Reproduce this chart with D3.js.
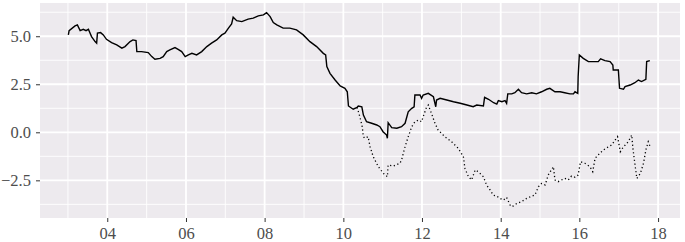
<!DOCTYPE html>
<html>
<head>
<meta charset="utf-8">
<script src="https://cdn.jsdelivr.net/npm/d3@7"></script>
<style>
  body { margin: 0; background: #fff; }
</style>
</head>
<body>
<div class="vis-chart"></div>
<script>
// decimal year, value
const solidSeries = [
  [2003.01, 5.07], [2003.03, 5.29], [2003.18, 5.54], [2003.24, 5.59], [2003.31, 5.29],
  [2003.39, 5.36], [2003.46, 5.29], [2003.52, 5.36], [2003.60, 4.98], [2003.69, 4.72],
  [2003.73, 4.64], [2003.75, 5.16], [2003.83, 5.19], [2003.90, 5.07], [2003.98, 4.84],
  [2004.11, 4.67], [2004.24, 4.55], [2004.37, 4.38], [2004.45, 4.46], [2004.58, 4.72],
  [2004.65, 4.81], [2004.73, 4.77], [2004.75, 4.20], [2004.87, 4.20], [2005.04, 4.15],
  [2005.13, 3.94], [2005.21, 3.80], [2005.34, 3.85], [2005.42, 3.94], [2005.51, 4.20],
  [2005.59, 4.29], [2005.72, 4.41], [2005.80, 4.32], [2005.89, 4.20], [2005.98, 3.94],
  [2006.06, 4.03], [2006.15, 4.11], [2006.27, 4.03], [2006.40, 4.20], [2006.53, 4.46],
  [2006.65, 4.64], [2006.78, 4.81], [2006.91, 5.07], [2006.99, 5.16], [2007.08, 5.42],
  [2007.16, 5.64], [2007.20, 5.99], [2007.29, 5.81], [2007.42, 5.76], [2007.58, 5.89],
  [2007.71, 5.94], [2007.84, 6.06], [2007.97, 6.11], [2008.05, 6.23], [2008.14, 6.02],
  [2008.22, 5.71], [2008.31, 5.59], [2008.47, 5.42], [2008.64, 5.42], [2008.81, 5.33],
  [2008.98, 5.07], [2009.15, 4.72], [2009.32, 4.46], [2009.49, 4.11], [2009.55, 4.03],
  [2009.58, 3.42], [2009.66, 3.07], [2009.79, 2.72], [2009.92, 2.41], [2010.04, 2.29],
  [2010.10, 2.11], [2010.13, 1.37], [2010.25, 1.20], [2010.35, 1.30], [2010.38, 1.37],
  [2010.47, 1.33], [2010.51, 0.90], [2010.59, 0.55], [2010.72, 0.47], [2010.85, 0.38],
  [2010.93, 0.29], [2011.01, 0.03], [2011.10, -0.14], [2011.12, -0.31], [2011.14, 0.50],
  [2011.23, 0.24], [2011.36, 0.21], [2011.48, 0.29], [2011.57, 0.47], [2011.65, 1.07],
  [2011.74, 1.25], [2011.80, 1.33], [2011.82, 1.94], [2011.95, 1.94], [2011.99, 1.77],
  [2012.03, 1.94], [2012.16, 2.03], [2012.29, 1.85], [2012.35, 1.33], [2012.37, 1.68],
  [2012.46, 1.77], [2012.63, 1.68], [2012.80, 1.59], [2012.97, 1.51], [2013.14, 1.42],
  [2013.30, 1.33], [2013.39, 1.42], [2013.56, 1.37], [2013.59, 1.82], [2013.69, 1.72],
  [2013.82, 1.54], [2013.90, 1.47], [2013.94, 1.65], [2014.03, 1.59], [2014.11, 1.65],
  [2014.15, 1.51], [2014.18, 2.00], [2014.28, 2.00], [2014.36, 2.06], [2014.45, 2.24],
  [2014.53, 2.06], [2014.66, 2.00], [2014.79, 2.06], [2014.91, 2.00], [2015.04, 2.11],
  [2015.17, 2.24], [2015.25, 2.29], [2015.38, 2.11], [2015.51, 2.11], [2015.63, 2.06],
  [2015.76, 2.00], [2015.85, 2.00], [2015.89, 2.11], [2015.96, 2.03], [2015.97, 2.90],
  [2016.00, 4.03], [2016.10, 3.85], [2016.23, 3.68], [2016.48, 3.68], [2016.54, 3.82],
  [2016.65, 3.73], [2016.78, 3.68], [2016.85, 3.50], [2016.86, 3.24], [2016.99, 3.24],
  [2017.02, 2.29], [2017.12, 2.24], [2017.16, 2.38], [2017.29, 2.46], [2017.41, 2.58],
  [2017.50, 2.72], [2017.58, 2.64], [2017.69, 2.76], [2017.71, 3.68], [2017.79, 3.73]
];

const dottedSeries = [
  [2010.35, 1.30], [2010.42, 0.81], [2010.48, 0.29], [2010.51, -0.23], [2010.55, -0.31],
  [2010.63, -0.23], [2010.68, -0.75], [2010.76, -1.27], [2010.89, -1.79], [2011.02, -2.14],
  [2011.12, -2.31], [2011.14, -1.70], [2011.27, -1.76], [2011.44, -1.61], [2011.48, -1.44],
  [2011.57, -0.75], [2011.65, -0.23], [2011.74, 0.29], [2011.82, 0.55], [2011.91, 0.64],
  [2011.99, 0.55], [2012.03, 0.81], [2012.12, 1.33], [2012.16, 1.42], [2012.24, 0.99],
  [2012.33, 0.47], [2012.41, 0.12], [2012.58, -0.23], [2012.75, -0.49], [2012.92, -0.83],
  [2013.05, -1.27], [2013.09, -1.88], [2013.18, -2.31], [2013.26, -2.48], [2013.35, -1.96],
  [2013.43, -2.05], [2013.56, -2.31], [2013.64, -2.74], [2013.73, -3.00], [2013.81, -3.27],
  [2013.90, -3.32], [2013.98, -3.44], [2014.07, -3.53], [2014.15, -3.39], [2014.24, -3.79],
  [2014.29, -3.87], [2014.41, -3.70], [2014.53, -3.61], [2014.66, -3.44], [2014.79, -3.32],
  [2014.87, -3.27], [2014.96, -2.83], [2015.04, -2.66], [2015.13, -2.74], [2015.21, -2.22],
  [2015.34, -1.79], [2015.38, -2.48], [2015.46, -2.57], [2015.55, -2.48], [2015.63, -2.40],
  [2015.72, -2.48], [2015.80, -2.28], [2015.89, -2.34], [2015.97, -2.22], [2016.03, -1.53],
  [2016.14, -1.61], [2016.27, -1.79], [2016.34, -2.05], [2016.40, -1.35], [2016.52, -1.09],
  [2016.61, -0.92], [2016.74, -0.75], [2016.82, -0.66], [2016.91, -0.40], [2016.97, -0.23],
  [2017.04, -1.01], [2017.12, -0.75], [2017.21, -0.57], [2017.29, -0.31], [2017.33, -0.14],
  [2017.36, -0.83], [2017.42, -1.79], [2017.46, -2.40], [2017.55, -2.14], [2017.63, -1.61],
  [2017.69, -0.92], [2017.75, -0.49], [2017.80, -0.75]
];

const yTicks = [-2.5, 0, 2.5, 5];
const yMinor = [-3.75, -1.25, 1.25, 3.75, 6.25];
const xTickYears = [2004, 2006, 2008, 2010, 2012, 2014, 2016, 2018];
const xMinorYears = [2003, 2005, 2007, 2009, 2011, 2013, 2015, 2017];

const toDate = (y) => {
  const yr = Math.floor(y);
  const start = Date.UTC(yr, 0, 1);
  const end = Date.UTC(yr + 1, 0, 1);
  return new Date(start + (y - yr) * (end - start));
};

const totalWidth = 685;
const totalHeight = 242;
const margin = { top: 3, right: 5, bottom: 24, left: 40 };
const width = totalWidth - margin.left - margin.right;
const height = totalHeight - margin.top - margin.bottom;
const labelFont = '"Liberation Serif", "Times New Roman", serif';

const svg = d3
  .select('.vis-chart')
  .append('svg')
  .attr('width', totalWidth)
  .attr('height', totalHeight)
  .append('g')
  .attr('transform', `translate(${margin.left},${margin.top})`);

const x = d3.scaleUtc().domain([toDate(2002.289), toDate(2018.558)]).range([0, width]);
const y = d3.scaleLinear().domain([-4.46, 6.73]).range([height, 0]);

// panel
svg.append('rect')
  .attr('width', width)
  .attr('height', height)
  .attr('fill', '#edeaee');

// grid
svg.selectAll('.minor-y')
  .data(yMinor)
  .enter()
  .append('line')
  .attr('x1', 0).attr('x2', width)
  .attr('y1', (d) => y(d)).attr('y2', (d) => y(d))
  .attr('stroke', '#fff').attr('stroke-width', 0.9);

svg.selectAll('.minor-x')
  .data(xMinorYears)
  .enter()
  .append('line')
  .attr('y1', 0).attr('y2', height)
  .attr('x1', (d) => x(toDate(d))).attr('x2', (d) => x(toDate(d)))
  .attr('stroke', '#fff').attr('stroke-width', 0.9);

svg.selectAll('.major-y')
  .data(yTicks)
  .enter()
  .append('line')
  .attr('x1', 0).attr('x2', width)
  .attr('y1', (d) => y(d)).attr('y2', (d) => y(d))
  .attr('stroke', '#fff').attr('stroke-width', 1.8);

svg.selectAll('.major-x')
  .data(xTickYears)
  .enter()
  .append('line')
  .attr('y1', 0).attr('y2', height)
  .attr('x1', (d) => x(toDate(d))).attr('x2', (d) => x(toDate(d)))
  .attr('stroke', '#fff').attr('stroke-width', 1.8);

// lines
const line = d3.line()
  .x((d) => x(toDate(d[0])))
  .y((d) => y(d[1]));

svg.append('path')
  .datum(dottedSeries)
  .attr('d', line)
  .attr('fill', 'none')
  .attr('stroke', '#000')
  .attr('stroke-width', 1.3)
  .attr('stroke-dasharray', '1.2,2.6');

svg.append('path')
  .datum(solidSeries)
  .attr('d', line)
  .attr('fill', 'none')
  .attr('stroke', '#000')
  .attr('stroke-width', 1.4);

// axes
const xAxis = svg.append('g')
  .attr('transform', `translate(0,${height})`)
  .call(d3.axisBottom(x)
    .tickValues(xTickYears.map(toDate))
    .tickFormat(d3.utcFormat('%y'))
    .tickSize(4)
    .tickPadding(5));

const yAxis = svg.append('g')
  .call(d3.axisLeft(y)
    .tickValues(yTicks)
    .tickFormat(d3.format('.1f'))
    .tickSize(4)
    .tickPadding(5));

[xAxis, yAxis].forEach((g) => {
  g.select('.domain').remove();
  g.selectAll('line').attr('stroke', '#333');
  g.selectAll('text')
    .style('font-family', labelFont)
    .style('font-size', '16.5px')
    .attr('fill', '#4d4d4d');
});
</script>
</body>
</html>
